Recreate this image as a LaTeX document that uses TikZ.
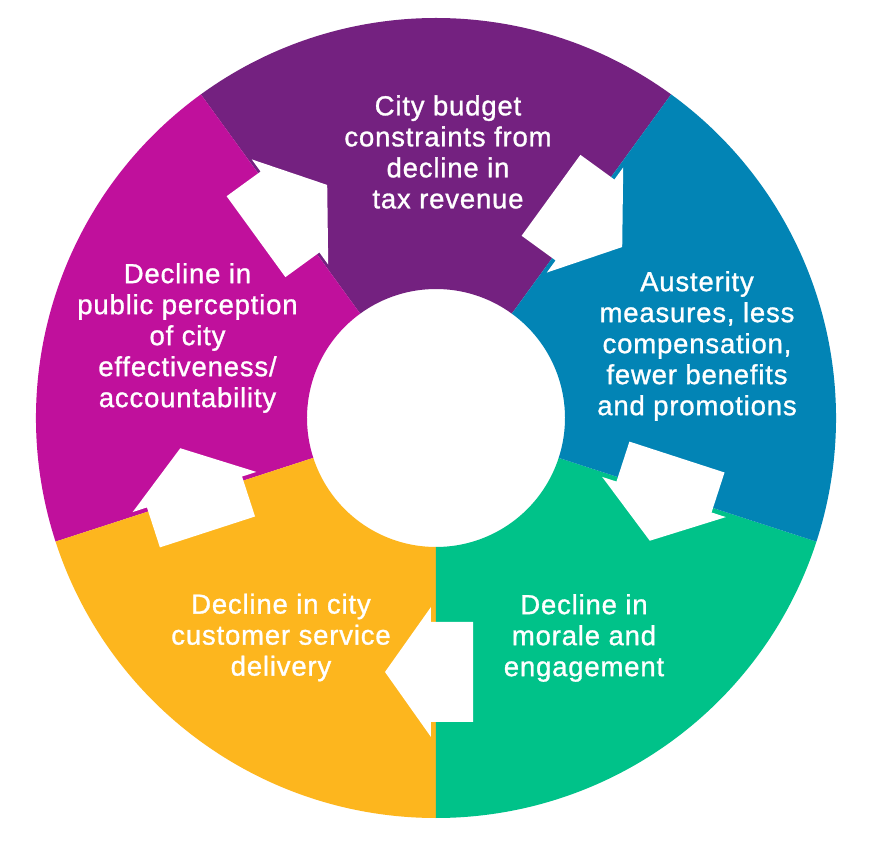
\documentclass[tikz,border=0pt]{standalone}
\usepackage{fontspec}
\setmainfont{Liberation Sans}
\newfontfamily\lblfont{Liberation Sans}[FakeBold=1.1, LetterSpace=3]
\definecolor{cpurple}{RGB}{116,33,128}
\definecolor{cmagenta}{RGB}{192,16,156}
\definecolor{cblue}{RGB}{2,132,181}
\definecolor{cgreen}{RGB}{0,194,137}
\definecolor{cyellow}{RGB}{253,182,30}
\tikzset{
  lbl/.style={text=white, align=center, inner sep=0pt, font=\lblfont\fontsize{27.5}{31}\selectfont},
  blockarrow/.style={fill=white},
}
\begin{document}
\begin{tikzpicture}[x=1pt,y=1pt]
\useasboundingbox (-436,-432) rectangle (442,418);
\fill[white] (-436,-432) rectangle (442,418);
% segments
\fill[cpurple]  (54:129) -- (54:400) arc[start angle=54, end angle=126, radius=400] -- (126:129) arc[start angle=126, end angle=54, radius=129] -- cycle;
\fill[cmagenta] (126:129) -- (126:400) arc[start angle=126, end angle=198, radius=400] -- (198:129) arc[start angle=198, end angle=126, radius=129] -- cycle;
\fill[cyellow]  (198:129) -- (198:400) arc[start angle=198, end angle=270, radius=400] -- (270:129) arc[start angle=270, end angle=198, radius=129] -- cycle;
\fill[cgreen]   (270:129) -- (270:400) arc[start angle=270, end angle=342, radius=400] -- (342:129) arc[start angle=342, end angle=270, radius=129] -- cycle;
\fill[cblue]    (-18:129) -- (-18:400) arc[start angle=-18, end angle=54, radius=400] -- (54:129) arc[start angle=54, end angle=-18, radius=129] -- cycle;
% white block arrows
\fill[blockarrow, shift={(149,198)}, rotate=-36] (-42,50) -- (0,50) -- (0,65) -- (46,0) -- (0,-65) -- (0,-50) -- (-42,-50) -- cycle;
\fill[blockarrow, shift={(228,-79)}, rotate=-108] (-42,50) -- (0,50) -- (0,65) -- (46,0) -- (0,-65) -- (0,-50) -- (-42,-50) -- cycle;
\fill[blockarrow, shift={(-5,-254)}, rotate=180] (-42,50) -- (0,50) -- (0,65) -- (46,0) -- (0,-65) -- (0,-50) -- (-42,-50) -- cycle;
\fill[blockarrow, shift={(-241.5,-74)}, rotate=108] (-42,50) -- (0,50) -- (0,65) -- (46,0) -- (0,-65) -- (0,-50) -- (-42,-50) -- cycle;
\fill[blockarrow, shift={(-146,206)}, rotate=36] (-42,50) -- (0,50) -- (0,65) -- (46,0) -- (0,-65) -- (0,-50) -- (-42,-50) -- cycle;
% labels
\node[lbl] (budget) at (12,266) {City budget\\constraints from\\decline in\\tax revenue};
\node[lbl] (austerity) at (261,72) {Austerity\\measures, less\\compensation,\\fewer benefits\\and promotions};
\node[lbl] (morale) at (148,-220) {Decline in\\morale and\\engagement};
\node[lbl] (service) at (-155,-219.5) {Decline in city\\customer service\\delivery};
\node[lbl] (perception) at (-248.5,80) {Decline in\\public perception\\of city\\effectiveness/\\accountability};
\end{tikzpicture}
\end{document}
